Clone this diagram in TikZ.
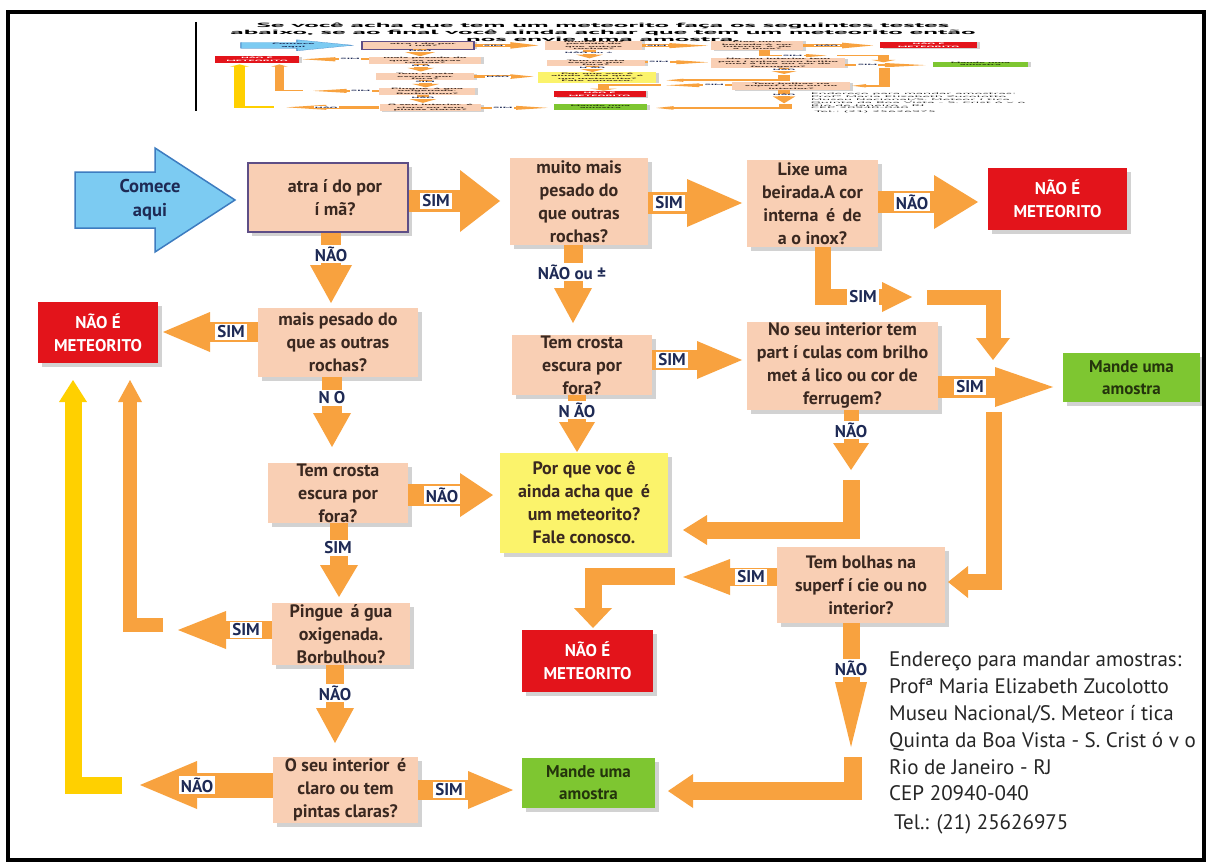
\documentclass[tikz,border=0pt]{standalone}
\usepackage{fontspec}
\setmainfont{PT Sans}
\usepackage{graphicx}
\usetikzlibrary{shadows,calc}

\definecolor{peach}{HTML}{F9CFB4}
\definecolor{arr}{HTML}{F8A23F}
\definecolor{gold}{HTML}{FFD000}
\definecolor{redbox}{HTML}{E3141B}
\definecolor{greenbox}{HTML}{7EC631}
\definecolor{yellowbox}{HTML}{FBF36B}
\definecolor{skyblue}{HTML}{7CCBF2}
\definecolor{skyedge}{HTML}{3D7CC0}
\definecolor{ink}{HTML}{3A2820}
\definecolor{navy}{HTML}{1E2A55}
\definecolor{boxedge}{HTML}{5E4E86}
\definecolor{darkgreen}{HTML}{24340C}

\newcommand{\boxfont}{\fontsize{18}{23}\selectfont\bfseries}

\tikzset{
  shadowed/.style={drop shadow={shadow xshift=4pt, shadow yshift=-4pt, fill=black!35}},
  wh/.style 2 args={minimum width=#1pt, minimum height=#2pt},
  box/.style={fill=peach, text=ink, font=\boxfont, align=center, inner sep=0pt, shadowed},
  redb/.style={fill=redbox, text=white, font=\fontsize{17}{23}\selectfont\bfseries, align=center, inner sep=0pt, shadowed},
  greenb/.style={fill=greenbox, text=darkgreen, font=\fontsize{17}{22}\selectfont\bfseries, align=center, inner sep=0pt, shadowed},
  yellowb/.style={fill=yellowbox, text=ink, font=\boxfont, align=center, inner sep=0pt, shadowed},
  lbl/.style={fill=white, text=navy, font=\fontsize{17}{17}\selectfont\bfseries, inner xsep=2pt, inner ysep=1.5pt},
  shaft/.style={draw=arr, line width=#1pt, line join=miter},
  goldshaft/.style={draw=gold, line width=#1pt, line join=miter}
}

% filled arrow head: colour, tip, direction angle, length, half width
\newcommand{\headto}[5]{\fill[#1,shift={(#2)},rotate=#3] (0,0) -- (-#4,#5) -- (-#4,-#5) -- cycle;}

% the whole flow chart, in pixel-like units (y grows downward)
\newcommand{\flowchart}{%
  % start arrow
  \draw[fill=skyblue, draw=skyedge, line width=1.5pt, line join=miter]
    (75,172) -- (155,172) -- (155,148) -- (235,200) -- (155,252) -- (155,228) -- (75,228) -- cycle;
  \node[text=navy, font=\fontsize{18.5}{24}\selectfont\bfseries, align=center] (start) at (150,200) {Comece\\aqui};

  % question boxes
  \node[box, wh={160}{69}, draw=boxedge, line width=1.5pt] (b1) at (328,197.5) {\hspace*{14pt}atra í do por\\\hspace*{14pt}í mã?};
  \node[box, wh={138}{87}] (b2) at (579,201.5) {muito mais\\pesado do\\que outras\\rochas?};
  \node[box, wh={131}{87}] (b3) at (812.5,203.5) {Lixe uma\\beirada.A cor\\interna \,é\, de\\a o inox?};
  \node[redb, wh={139}{62}] (r1) at (1057.5,199) {NÃO É\\METEORITO};
  \node[box, wh={160}{69}] (b4) at (338,342.5) {mais pesado do\\que as outras\\rochas?};
  \node[redb, wh={120}{61}] (r2) at (98,332.5) {NÃO É\\METEORITO};
  \node[box, wh={140}{60}] (b10) at (582,365) {Tem crosta\\escura por\\fora?};
  \node[box, wh={191}{88}] (b8) at (842.5,366) {No seu interior tem\\part í culas com brilho\\met á lico ou cor de\\ferrugem?};
  \node[greenb, wh={137}{49}] (g1) at (1131.5,377.5) {Mande uma\\amostra};
  \node[box, wh={140}{60}] (b5) at (338,493) {Tem crosta\\escura por\\fora?};
  \node[yellowb, wh={168}{100}] (y1) at (584,503) {Por que voc ê\\ainda acha que \,é\\um meteorito?\\Fale conosco.};
  \node[box, wh={168}{76}] (b9) at (861,585) {Tem bolhas na\\superf í cie ou no\\interior?};
  \node[box, wh={138}{62}] (b6) at (341,634) {Pingue \,á gua\\oxigenada.\\Borbulhou?};
  \node[redb, wh={131}{62}] (r3) at (587.5,661) {NÃO É\\METEORITO};
  \node[box, wh={145}{66}] (b7) at (345.5,790) {O seu interior \,é\\claro ou tem\\pintas claras?};
  \node[greenb, wh={133}{50}] (g2) at (588.5,783) {Mande uma\\amostra};

  % atraído -> muito mais pesado
  \coordinate (t1) at (500,201);
  \draw[shaft=22, shorten >=38pt] (b1.east |- t1) -- (t1);
  \headto{arr}{t1}{0}{40}{31}
  \node[lbl] (l1) at (436,201) {SIM};
  % muito mais pesado -> lixe
  \coordinate (t2) at (742,203);
  \draw[shaft=22, shorten >=52pt] (b2.east |- t2) -- (t2);
  \headto{arr}{t2}{0}{55}{24}
  \node[lbl] (l2) at (669,203) {SIM};
  % lixe -> nao e meteorito
  \coordinate (t3) at (978,202);
  \draw[shaft=22, shorten >=42pt] (b3.east |- t3) -- (t3);
  \headto{arr}{t3}{0}{44}{27}
  \node[lbl] (l3) at (912,202) {NÃO};
  % atraído -> mais pesado
  \coordinate (t4) at (331,303);
  \draw[shaft=20, shorten >=36pt] (t4 |- b1.south) -- (t4);
  \headto{arr}{t4}{-90}{38}{21}
  \node[lbl] (l4) at (331,254) {NÃO};
  % lixe -> mande (upper L pieces)
  \coordinate (t5) at (912,297);
  \draw[shaft=16, shorten >=28pt] ([xshift=10pt]b3.south) |- (t5);
  \headto{arr}{t5}{0}{30}{15}
  \node[lbl] (l5) at (863,297) {SIM};
  \coordinate (c5) at (927,297);
  \coordinate (t5b) at (993,360);
  \draw[shaft=15, shorten >=20pt] (c5) -| (t5b);
  \headto{arr}{t5b}{-90}{22}{17}
  % mais pesado -> nao e meteorito
  \coordinate (t6) at (163,332);
  \draw[shaft=20, shorten >=45pt] (b4.west |- t6) -- (t6);
  \headto{arr}{t6}{180}{47}{20}
  \node[lbl] (l6) at (231,332) {SIM};
  % mais pesado -> tem crosta
  \coordinate (t7) at (332,447);
  \draw[shaft=20, shorten >=32pt] (t7 |- b4.south) -- (t7);
  \headto{arr}{t7}{-90}{34}{19}
  \node[lbl] (l7) at (332,398) {N\hspace{4pt}O};
  % muito mais pesado -> tem crosta (middle)
  \coordinate (t8) at (573,323);
  \draw[shaft=19, shorten >=33pt] (t8 |- b2.south) -- (t8);
  \headto{arr}{t8}{-90}{35}{19}
  \node[lbl] (l8) at (572,272) {NÃO ou ±};
  % tem crosta (middle) -> particulas
  \coordinate (t9) at (742,360);
  \draw[shaft=20, shorten >=43pt] (b10.east |- t9) -- (t9);
  \headto{arr}{t9}{0}{45}{19}
  \node[lbl] (l9) at (672,360) {SIM};
  % tem crosta (middle) -> por que
  \coordinate (t10) at (577,452);
  \draw[shaft=18, shorten >=28pt] (t10 |- b10.south) -- (t10);
  \headto{arr}{t10}{-90}{30}{18}
  \node[lbl] (l10) at (577,410) {N ÃO};
  % particulas -> mande
  \coordinate (t11) at (1053,387);
  \draw[shaft=22, shorten >=56pt] (b8.east |- t11) -- (t11);
  \headto{arr}{t11}{0}{58}{20}
  \node[lbl] (l11) at (970,387) {SIM};
  % particulas -> por que
  \coordinate (t12) at (851,470);
  \draw[shaft=15, shorten >=25pt] (t12 |- b8.south) -- (t12);
  \headto{arr}{t12}{-90}{27}{18}
  \node[lbl] (l12) at (851,430) {NÃO};
  \coordinate (c13) at (851,480);
  \coordinate (t13) at (683,530);
  \draw[shaft=17, shorten >=22pt] (c13) |- (t13);
  \headto{arr}{t13}{180}{24}{15}
  % tem crosta (left) -> por que
  \coordinate (t14) at (493,495);
  \draw[shaft=22, shorten >=31pt] (b5.east |- t14) -- (t14);
  \headto{arr}{t14}{0}{33}{22}
  \node[lbl] (l14) at (442,495) {NÃO};
  % tem crosta (left) -> pingue
  \coordinate (t15) at (339,597);
  \draw[shaft=18, shorten >=30pt] (t15 |- b5.south) -- (t15);
  \headto{arr}{t15}{-90}{32}{19}
  \node[lbl] (l15) at (338,548) {SIM};
  % bolhas -> nao e meteorito
  \coordinate (t16) at (683,577);
  \draw[shaft=18, shorten >=45pt] (b9.west |- t16) -- (t16);
  \headto{arr}{t16}{180}{47}{18}
  \node[lbl] (l16) at (751,577) {SIM};
  \coordinate (c17) at (675,576);
  \coordinate (t17) at (593,628);
  \draw[shaft=17, shorten >=18pt] (c17) -| (t17);
  \headto{arr}{t17}{-90}{20}{19}
  % right-hand line into bolhas
  \coordinate (c18) at (994,412);
  \coordinate (t18) at (948,582);
  \draw[shaft=16, shorten >=18pt] (c18) |- (t18);
  \headto{arr}{t18}{180}{20}{16}
  % pingue -> nao e meteorito
  \coordinate (t19) at (178,630);
  \draw[shaft=18, shorten >=46pt] (b6.west |- t19) -- (t19);
  \headto{arr}{t19}{180}{48}{19}
  \node[lbl] (l19) at (246,630) {SIM};
  \coordinate (c20) at (163,625);
  \coordinate (t20) at (130,380);
  \draw[shaft=14, shorten >=20pt] (c20) -| (t20);
  \headto{arr}{t20}{90}{22}{12}
  % pingue -> seu interior
  \coordinate (t21) at (335,743);
  \draw[shaft=18, shorten >=33pt] (t21 |- b6.south) -- (t21);
  \headto{arr}{t21}{-90}{35}{19}
  \node[lbl] (l21) at (335,693) {NÃO};
  % seu interior -> nao e meteorito
  \coordinate (t22) at (140,785);
  \draw[shaft=25, shorten >=55pt] (b7.west |- t22) -- (t22);
  \headto{arr}{t22}{180}{57}{24}
  \node[lbl] (l22) at (197,785) {NÃO};
  \coordinate (c23) at (122,785);
  \coordinate (t23) at (73,380);
  \draw[goldshaft=17, shorten >=20pt] (c23) -| (t23);
  \headto{gold}{t23}{90}{22}{14}
  % seu interior -> mande
  \coordinate (t24) at (513,790);
  \draw[shaft=20, shorten >=43pt] (b7.east |- t24) -- (t24);
  \headto{arr}{t24}{0}{45}{19}
  \node[lbl] (l24) at (449,790) {SIM};
  % bolhas -> mande
  \coordinate (t25) at (851,747);
  \draw[shaft=17, shorten >=63pt] (t25 |- b9.south) -- (t25);
  \headto{arr}{t25}{-90}{65}{16}
  \node[lbl] (l25) at (851,668) {NÃO};
  \coordinate (c26) at (853,757);
  \coordinate (t26) at (668,791);
  \draw[shaft=18, shorten >=23pt] (c26) |- (t26);
  \headto{arr}{t26}{180}{25}{17}

  % postal address
  \node[anchor=north west, align=left, text=black!85, inner sep=0pt,
        font=\fontsize{21}{26.8}\selectfont] (addr) at (889,652)
    {Endereço para mandar amostras:\\Profª Maria Elizabeth Zucolotto\\Museu Nacional/S. Meteor í tica\\Quinta da Boa Vista - S. Crist ó v o\\Rio de Janeiro - RJ\\CEP 20940-040\\[2pt]\hspace*{5pt}Tel.: (21) 25626975};
}

\begin{document}
\begin{tikzpicture}[x=1pt, y=-1pt]
  \useasboundingbox[fill=white] (0,0) rectangle (1209,864);

  % small overview strip at the top
  \begin{scope}[transform canvas={shift={(188.4,24.1)}, xscale=0.7, yscale=0.106}, name prefix=th-]
    \flowchart
  \end{scope}
  \node[inner sep=0pt] (title) at (603,33)
    {\resizebox*{745pt}{22pt}{\bfseries\begin{tabular}{@{}c@{}}Se você acha que tem um meteorito faça os seguintes testes\\abaixo, se ao final você ainda achar que tem um meteorito então\\nos envie uma amostra.\end{tabular}}};
  \draw[line width=2.5pt] (196,22) -- (196,111);

  % main chart
  \flowchart

  % outer frame
  \draw[line width=4pt] (8,12) rectangle (1204,860);
\end{tikzpicture}
\end{document}
